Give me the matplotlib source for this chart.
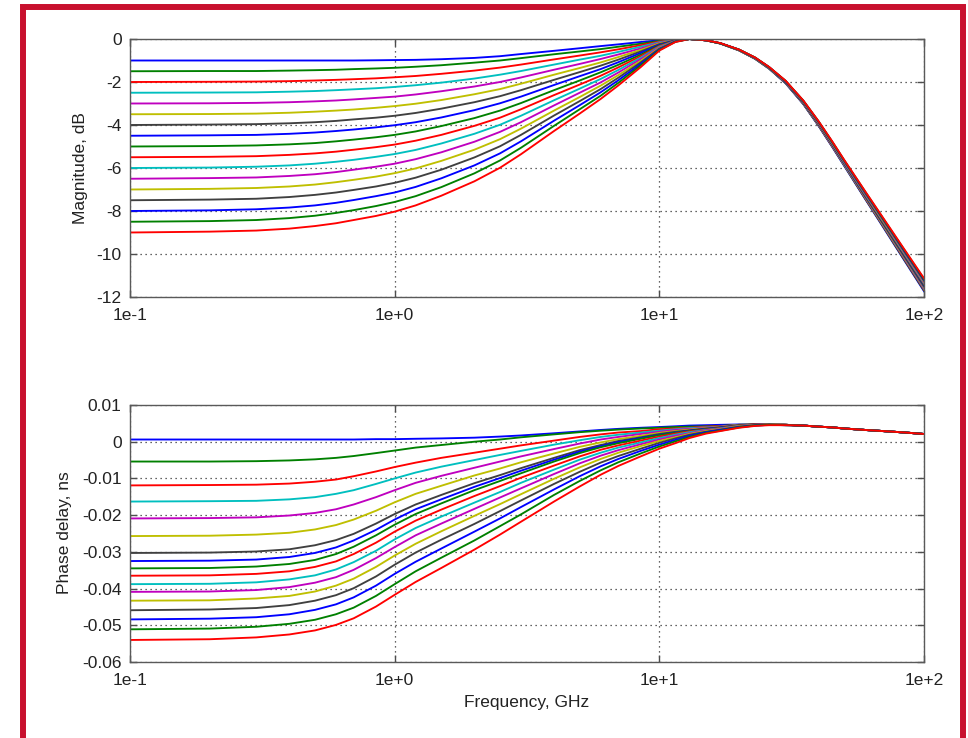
import matplotlib
matplotlib.use("Agg")
import matplotlib.pyplot as plt
from matplotlib.patches import Rectangle
from matplotlib.ticker import NullLocator

# frequency grid (GHz) the curves were read at
FREQ_GHZ = [0.1, 0.2, 0.3, 0.4, 0.5, 0.6, 0.7, 0.85, 1, 1.2, 1.5, 2, 2.5, 3,
            4, 5, 6, 7, 8.5, 10, 11.5, 13, 15, 17, 20, 23, 26, 30,
            35, 40, 45, 50, 60, 70, 85, 100]

# magnitude (dB), one row per curve, DC gain -1 ... -9 dB
MAG_DB = [
    [-1, -1, -1, -1, -1, -1, -1, -0.99, -0.98, -0.97, -0.94, -0.88, -0.8, -0.7, -0.55, -0.43, -0.33, -0.25, -0.14, -0.06, -0.015, 0, -0.06, -0.21, -0.53, -0.92, -1.38, -2.06, -3.03, -4.05, -5.02, -5.91, -7.45, -8.74, -10.37, -11.73],
    [-1.5, -1.49, -1.49, -1.47, -1.45, -1.43, -1.4, -1.37, -1.34, -1.29, -1.22, -1.1, -1.0, -0.89, -0.71, -0.58, -0.47, -0.36, -0.22, -0.09, -0.02, 0, -0.06, -0.21, -0.53, -0.92, -1.38, -2.05, -3.02, -4.04, -5.0, -5.89, -7.43, -8.71, -10.34, -11.69],
    [-2, -1.99, -1.98, -1.96, -1.93, -1.9, -1.87, -1.83, -1.78, -1.72, -1.62, -1.47, -1.33, -1.19, -0.95, -0.77, -0.62, -0.48, -0.29, -0.12, -0.03, 0, -0.06, -0.21, -0.52, -0.91, -1.37, -2.04, -3.01, -4.02, -4.99, -5.87, -7.41, -8.69, -10.31, -11.66],
    [-2.5, -2.49, -2.48, -2.45, -2.42, -2.38, -2.34, -2.29, -2.23, -2.15, -2.03, -1.84, -1.66, -1.49, -1.19, -0.96, -0.78, -0.6, -0.36, -0.15, -0.04, 0, -0.06, -0.21, -0.52, -0.91, -1.37, -2.04, -3.0, -4.01, -4.97, -5.86, -7.38, -8.66, -10.27, -11.62],
    [-3, -2.99, -2.97, -2.94, -2.9, -2.86, -2.81, -2.74, -2.68, -2.58, -2.43, -2.21, -2.0, -1.79, -1.43, -1.16, -0.93, -0.72, -0.44, -0.18, -0.05, 0, -0.06, -0.2, -0.52, -0.9, -1.36, -2.03, -2.99, -4.0, -4.96, -5.84, -7.36, -8.63, -10.24, -11.58],
    [-3.5, -3.49, -3.47, -3.43, -3.38, -3.33, -3.28, -3.2, -3.12, -3.01, -2.84, -2.57, -2.33, -2.08, -1.66, -1.35, -1.09, -0.84, -0.51, -0.21, -0.05, 0, -0.06, -0.2, -0.52, -0.9, -1.36, -2.02, -2.98, -3.98, -4.94, -5.82, -7.34, -8.61, -10.21, -11.54],
    [-4, -3.98, -3.96, -3.92, -3.87, -3.81, -3.74, -3.66, -3.57, -3.44, -3.24, -2.94, -2.66, -2.38, -1.9, -1.54, -1.24, -0.96, -0.58, -0.24, -0.06, 0, -0.06, -0.2, -0.51, -0.9, -1.35, -2.02, -2.97, -3.97, -4.92, -5.8, -7.32, -8.58, -10.18, -11.51],
    [-4.5, -4.48, -4.46, -4.41, -4.35, -4.28, -4.21, -4.11, -4.01, -3.87, -3.65, -3.31, -2.99, -2.68, -2.14, -1.73, -1.4, -1.08, -0.65, -0.27, -0.07, 0, -0.06, -0.2, -0.51, -0.89, -1.35, -2.01, -2.96, -3.95, -4.91, -5.79, -7.29, -8.55, -10.14, -11.47],
    [-5, -4.98, -4.95, -4.9, -4.84, -4.76, -4.68, -4.57, -4.46, -4.3, -4.05, -3.68, -3.33, -2.98, -2.38, -1.93, -1.55, -1.2, -0.73, -0.3, -0.08, 0, -0.06, -0.2, -0.51, -0.89, -1.34, -2.0, -2.95, -3.94, -4.89, -5.77, -7.27, -8.53, -10.11, -11.43],
    [-5.5, -5.48, -5.45, -5.39, -5.32, -5.24, -5.15, -5.03, -4.91, -4.73, -4.46, -4.04, -3.66, -3.27, -2.61, -2.12, -1.71, -1.32, -0.8, -0.33, -0.08, 0, -0.06, -0.2, -0.51, -0.89, -1.34, -1.99, -2.93, -3.93, -4.87, -5.75, -7.25, -8.5, -10.08, -11.39],
    [-6, -5.98, -5.94, -5.88, -5.8, -5.71, -5.62, -5.48, -5.35, -5.16, -4.86, -4.41, -3.99, -3.57, -2.85, -2.31, -1.86, -1.44, -0.87, -0.36, -0.09, 0, -0.06, -0.2, -0.5, -0.88, -1.33, -1.98, -2.92, -3.91, -4.86, -5.74, -7.23, -8.47, -10.05, -11.36],
    [-6.5, -6.47, -6.44, -6.37, -6.29, -6.19, -6.08, -5.94, -5.8, -5.59, -5.27, -4.78, -4.32, -3.87, -3.09, -2.5, -2.02, -1.56, -0.94, -0.39, -0.1, 0, -0.06, -0.2, -0.5, -0.88, -1.33, -1.98, -2.91, -3.9, -4.84, -5.72, -7.2, -8.44, -10.01, -11.32],
    [-7, -6.97, -6.93, -6.86, -6.77, -6.66, -6.55, -6.4, -6.24, -6.02, -5.67, -5.15, -4.66, -4.17, -3.33, -2.7, -2.17, -1.68, -1.02, -0.42, -0.11, 0, -0.06, -0.2, -0.5, -0.88, -1.32, -1.97, -2.9, -3.89, -4.83, -5.7, -7.18, -8.42, -9.98, -11.28],
    [-7.5, -7.47, -7.43, -7.35, -7.25, -7.14, -7.02, -6.86, -6.69, -6.45, -6.08, -5.51, -4.99, -4.46, -3.56, -2.89, -2.33, -1.8, -1.09, -0.45, -0.11, 0, -0.06, -0.2, -0.5, -0.87, -1.32, -1.96, -2.89, -3.87, -4.81, -5.68, -7.16, -8.39, -9.95, -11.24],
    [-8, -7.97, -7.92, -7.84, -7.74, -7.62, -7.49, -7.31, -7.14, -6.88, -6.48, -5.88, -5.32, -4.76, -3.8, -3.08, -2.48, -1.92, -1.16, -0.48, -0.12, 0, -0.06, -0.2, -0.49, -0.87, -1.31, -1.96, -2.88, -3.86, -4.79, -5.67, -7.14, -8.36, -9.92, -11.21],
    [-8.5, -8.47, -8.42, -8.33, -8.22, -8.09, -7.96, -7.77, -7.58, -7.31, -6.89, -6.25, -5.65, -5.06, -4.04, -3.27, -2.64, -2.04, -1.23, -0.51, -0.13, 0, -0.06, -0.2, -0.49, -0.86, -1.31, -1.95, -2.87, -3.84, -4.78, -5.65, -7.11, -8.34, -9.88, -11.17],
    [-9, -8.96, -8.91, -8.82, -8.7, -8.57, -8.42, -8.23, -8.03, -7.74, -7.29, -6.62, -5.99, -5.36, -4.28, -3.47, -2.79, -2.16, -1.31, -0.54, -0.14, 0, -0.06, -0.19, -0.49, -0.86, -1.3, -1.94, -2.86, -3.83, -4.76, -5.63, -7.09, -8.31, -9.85, -11.13],
]

# phase delay (ns) from 0.1 to 30 GHz, one row per curve
DELAY_NS = [
    [0.0006, 0.0006, 0.0006, 0.0006, 0.0006, 0.0006, 0.0006, 0.0007, 0.0007, 0.0008, 0.0009, 0.0011, 0.0014, 0.0017, 0.0023, 0.0028, 0.0032, 0.0035, 0.0038, 0.0040, 0.0042, 0.0044, 0.0045, 0.0046, 0.0047, 0.0047, 0.0047, 0.0046],
    [-0.0054, -0.0054, -0.0053, -0.0051, -0.0048, -0.0044, -0.0039, -0.0031, -0.0024, -0.0016, -0.0009, 0.0000, 0.0006, 0.0012, 0.0020, 0.0026, 0.0030, 0.0033, 0.0036, 0.0038, 0.0040, 0.0041, 0.0042, 0.0043, 0.0046, 0.0047, 0.0047, 0.0046],
    [-0.0119, -0.0118, -0.0117, -0.0114, -0.0109, -0.0103, -0.0094, -0.0081, -0.0069, -0.0057, -0.0044, -0.0030, -0.0019, -0.0010, 0.0003, 0.0013, 0.0020, 0.0025, 0.0029, 0.0034, 0.0036, 0.0038, 0.0041, 0.0042, 0.0046, 0.0047, 0.0047, 0.0046],
    [-0.0163, -0.0162, -0.0161, -0.0157, -0.0151, -0.0142, -0.0132, -0.0115, -0.0100, -0.0084, -0.0068, -0.0050, -0.0036, -0.0025, -0.0008, 0.0004, 0.0013, 0.0019, 0.0025, 0.0030, 0.0034, 0.0037, 0.0039, 0.0041, 0.0046, 0.0047, 0.0047, 0.0046],
    [-0.0209, -0.0208, -0.0206, -0.0201, -0.0194, -0.0184, -0.0171, -0.0151, -0.0132, -0.0112, -0.0093, -0.0071, -0.0054, -0.0040, -0.0020, -0.0005, 0.0006, 0.0013, 0.0021, 0.0027, 0.0032, 0.0035, 0.0038, 0.0041, 0.0045, 0.0047, 0.0047, 0.0046],
    [-0.0257, -0.0256, -0.0253, -0.0248, -0.0239, -0.0227, -0.0212, -0.0188, -0.0165, -0.0142, -0.0120, -0.0092, -0.0073, -0.0056, -0.0032, -0.0014, -0.0002, 0.0007, 0.0016, 0.0024, 0.0029, 0.0033, 0.0037, 0.0040, 0.0045, 0.0047, 0.0047, 0.0046],
    [-0.0303, -0.0302, -0.0299, -0.0293, -0.0282, -0.0268, -0.0251, -0.0223, -0.0197, -0.0171, -0.0145, -0.0113, -0.0091, -0.0072, -0.0044, -0.0023, -0.0009, 0.0002, 0.0012, 0.0021, 0.0027, 0.0031, 0.0036, 0.0039, 0.0045, 0.0047, 0.0047, 0.0046],
    [-0.0325, -0.0324, -0.0321, -0.0314, -0.0303, -0.0288, -0.0269, -0.0240, -0.0212, -0.0184, -0.0157, -0.0123, -0.0099, -0.0079, -0.0049, -0.0027, -0.0012, -0.0001, 0.0010, 0.0019, 0.0025, 0.0030, 0.0035, 0.0039, 0.0044, 0.0047, 0.0047, 0.0046],
    [-0.0345, -0.0344, -0.0340, -0.0333, -0.0322, -0.0306, -0.0286, -0.0255, -0.0226, -0.0197, -0.0168, -0.0132, -0.0107, -0.0086, -0.0054, -0.0031, -0.0015, -0.0004, 0.0008, 0.0018, 0.0024, 0.0029, 0.0034, 0.0038, 0.0044, 0.0047, 0.0047, 0.0046],
    [-0.0365, -0.0364, -0.0360, -0.0353, -0.0341, -0.0326, -0.0306, -0.0275, -0.0245, -0.0215, -0.0185, -0.0148, -0.0121, -0.0098, -0.0065, -0.0040, -0.0022, -0.0010, 0.0003, 0.0014, 0.0022, 0.0028, 0.0033, 0.0037, 0.0044, 0.0047, 0.0047, 0.0046],
    [-0.0388, -0.0387, -0.0383, -0.0375, -0.0364, -0.0348, -0.0328, -0.0297, -0.0266, -0.0235, -0.0204, -0.0166, -0.0137, -0.0112, -0.0076, -0.0049, -0.0030, -0.0016, -0.0002, 0.0010, 0.0019, 0.0026, 0.0032, 0.0036, 0.0043, 0.0046, 0.0047, 0.0046],
    [-0.0409, -0.0408, -0.0404, -0.0396, -0.0384, -0.0369, -0.0349, -0.0317, -0.0287, -0.0255, -0.0223, -0.0183, -0.0152, -0.0127, -0.0088, -0.0059, -0.0038, -0.0023, -0.0007, 0.0006, 0.0016, 0.0023, 0.0031, 0.0035, 0.0042, 0.0046, 0.0047, 0.0046],
    [-0.0433, -0.0432, -0.0427, -0.0420, -0.0408, -0.0392, -0.0373, -0.0341, -0.0310, -0.0278, -0.0244, -0.0202, -0.0170, -0.0143, -0.0101, -0.0070, -0.0047, -0.0030, -0.0012, 0.0002, 0.0012, 0.0021, 0.0029, 0.0034, 0.0042, 0.0045, 0.0047, 0.0046],
    [-0.0459, -0.0457, -0.0453, -0.0445, -0.0433, -0.0418, -0.0399, -0.0367, -0.0335, -0.0302, -0.0267, -0.0224, -0.0189, -0.0160, -0.0115, -0.0082, -0.0057, -0.0039, -0.0019, -0.0003, 0.0009, 0.0019, 0.0027, 0.0033, 0.0041, 0.0045, 0.0047, 0.0045],
    [-0.0484, -0.0482, -0.0478, -0.0470, -0.0458, -0.0443, -0.0424, -0.0392, -0.0360, -0.0327, -0.0291, -0.0245, -0.0209, -0.0178, -0.0130, -0.0094, -0.0067, -0.0047, -0.0025, -0.0008, 0.0005, 0.0016, 0.0026, 0.0032, 0.0040, 0.0044, 0.0046, 0.0045],
    [-0.0511, -0.0509, -0.0504, -0.0496, -0.0485, -0.0470, -0.0452, -0.0420, -0.0388, -0.0353, -0.0316, -0.0269, -0.0230, -0.0198, -0.0145, -0.0107, -0.0078, -0.0056, -0.0032, -0.0013, 0.0001, 0.0013, 0.0024, 0.0030, 0.0039, 0.0044, 0.0046, 0.0045],
    [-0.0540, -0.0538, -0.0533, -0.0525, -0.0514, -0.0499, -0.0481, -0.0449, -0.0417, -0.0382, -0.0344, -0.0294, -0.0253, -0.0218, -0.0163, -0.0122, -0.0090, -0.0066, -0.0040, -0.0019, -0.0004, 0.0010, 0.0022, 0.0029, 0.0038, 0.0043, 0.0045, 0.0045],
]
# all curves share the same delay from 35 to 100 GHz
DELAY_TAIL_NS = [0.0044, 0.0041, 0.0039, 0.0036, 0.0032, 0.0029, 0.0025, 0.0021]

# octave-like colour order
COLORS = [(0, 0, 1), (0, 0.5, 0), (1, 0, 0), (0, 0.75, 0.75),
          (0.75, 0, 0.75), (0.75, 0.75, 0), (0.25, 0.25, 0.25)]

X_TICKS = [0.1, 1, 10, 100]
X_TICK_LABELS = ["1e-1", "1e+0", "1e+1", "1e+2"]
MAG_TICKS = [0, -2, -4, -6, -8, -10, -12]
DELAY_TICKS = [0.01, 0, -0.01, -0.02, -0.03, -0.04, -0.05, -0.06]
DELAY_TICK_LABELS = ["0.01", "0", "-0.01", "-0.02", "-0.03", "-0.04", "-0.05", "-0.06"]

plt.rcParams['font.family'] = ['Liberation Sans', 'DejaVu Sans']
plt.rcParams['axes.unicode_minus'] = False

W, H = 968, 738
fig = plt.figure(figsize=(W / 100, H / 100), dpi=100)
ax1 = fig.add_axes([130 / W, 1 - 297 / H, 794 / W, 258 / H])
ax2 = fig.add_axes([130 / W, 1 - 662 / H, 794 / W, 257 / H])


def style(ax, yticks, ylabels, ylim):
    ax.set_xscale('log')
    ax.set_xlim(0.1, 100)
    ax.set_ylim(*ylim)
    ax.set_xticks(X_TICKS)
    ax.set_xticklabels(X_TICK_LABELS)
    ax.xaxis.set_minor_locator(NullLocator())
    ax.set_yticks(yticks)
    ax.set_yticklabels(ylabels)
    ax.tick_params(direction='in', top=True, right=True, length=5, width=1,
                   color='0.3', labelsize=12.5, labelcolor='#222222')
    ax.tick_params(axis='x', pad=8)
    ax.tick_params(axis='y', pad=6)
    ax.grid(True, linestyle=(0, (1, 3)), color='0.2', linewidth=0.9)
    ax.set_axisbelow(True)
    for s in ax.spines.values():
        s.set_color('0.35')
        s.set_linewidth(1.0)


for i, row in enumerate(MAG_DB):
    ax1.plot(FREQ_GHZ, row, color=COLORS[i % 7], lw=1.35)
for i, row in enumerate(DELAY_NS):
    ax2.plot(FREQ_GHZ, row + DELAY_TAIL_NS, color=COLORS[i % 7], lw=1.35)

style(ax1, MAG_TICKS, [str(t) for t in MAG_TICKS], (-12, 0))
style(ax2, DELAY_TICKS, DELAY_TICK_LABELS, (-0.06, 0.01))

fig.text(80 / W, 1 - 168 / H, "Magnitude, dB", rotation=90, ha='center',
         va='center', fontsize=12.5, color='#222222')
fig.text(64 / W, 1 - 533 / H, "Phase delay, ns", rotation=90, ha='center',
         va='center', fontsize=12.5, color='#222222')
fig.text(527 / W, 1 - 702 / H, "Frequency, GHz", ha='center', va='center',
         fontsize=12.5, color='#222222')

# red frame around the figure (bottom edge runs off the picture)
frame = Rectangle((23 / W, -0.1), (963 - 23) / W, 1.1 - 7 / H,
                  transform=fig.transFigure, fill=False,
                  edgecolor='#C8102E', linewidth=4.3, clip_on=False)
fig.add_artist(frame)

fig.savefig("out.png", dpi=100)
